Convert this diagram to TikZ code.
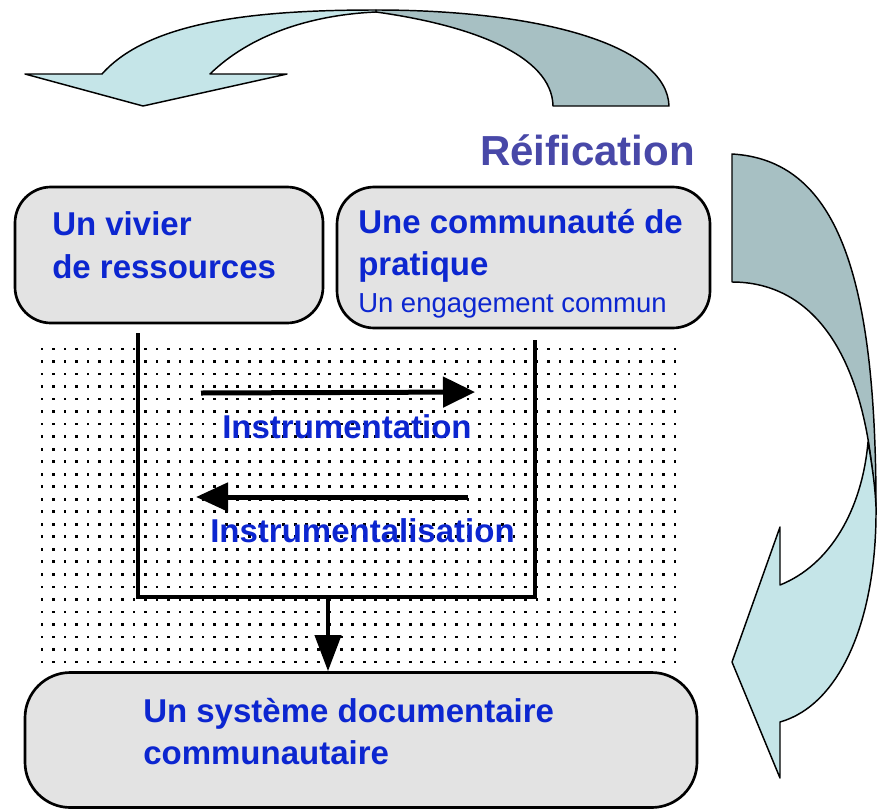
\documentclass[tikz,border=0pt]{standalone}
\usepackage{fontspec}
\setmainfont{Liberation Sans}
\usetikzlibrary{arrows.meta}
\definecolor{boxgray}{RGB}{227,227,227}
\definecolor{textblue}{RGB}{12,38,208}
\definecolor{reifblue}{RGB}{72,72,168}
\definecolor{paleteal}{RGB}{197,229,232}
\definecolor{greyteal}{RGB}{167,192,195}
\begin{document}
\begin{tikzpicture}[x=0.75pt,y=-0.75pt,
  box/.style={draw=black,line width=2pt,fill=boxgray,inner sep=0pt},
  bigtxt/.style={anchor=base west,inner sep=0pt,text=textblue,
    font=\fontsize{24.75}{30}\selectfont\bfseries},
  smalltxt/.style={anchor=base west,inner sep=0pt,text=textblue,
    font=\fontsize{20.6}{25}\selectfont},
  bandline/.style={draw=black,line width=1.1pt,line join=round},
  flow/.style={line width=3.75pt,-{Triangle[length=24pt,width=22.5pt]}},
  frame/.style={line width=3pt,line join=miter}]
\useasboundingbox (0,0) rectangle (884,810);

% dotted field
\foreach \i in {0,...,55}{
  \foreach \j in {0,...,25}{
    \fill ({42+\i*11.51-1.35},{349+\j*12.52-1.35}) rectangle ++(2.7,2.7);
  }
}

% curved arrow at the top
\filldraw[bandline,fill=greyteal] (376,10) .. controls (540,10) and (667,45) .. (669,106)
  -- (553,106) .. controls (552,55) and (470,25) .. (376,12) -- cycle;
\filldraw[bandline,fill=paleteal] (25,74) -- (102,74)
  .. controls (150,20) and (260,10) .. (376,10) -- (376,12)
  .. controls (310,15) and (250,35) .. (210,74) -- (287,74) -- (143,106) -- cycle;

% curved arrow on the right
\filldraw[bandline,fill=greyteal] (732,154) .. controls (835,160) and (876,270) .. (876,507)
  -- (875,507) .. controls (868,350) and (810,282) .. (732,282) -- cycle;
\filldraw[bandline,fill=paleteal] (868,442) .. controls (872,465) and (875,485) .. (876,507)
  .. controls (877,620) and (840,705) .. (780,722) -- (780,778) -- (732,662)
  -- (780,527) -- (780,585) .. controls (830,565) and (862,510) .. (868,442) -- cycle;

\node[anchor=base west,inner sep=0pt,text=reifblue,
  font=\fontsize{31.5}{36}\selectfont\bfseries] (reif) at (480,165) {Réification};

% boxes
\node[box,rounded corners=27pt,minimum width=231pt,minimum height=102pt]
  (pool) at (169,255) {};
\node[box,rounded corners=28pt,minimum width=279.75pt,minimum height=105.75pt]
  (cop) at (523.5,257.5) {};
\node[box,rounded corners=34pt,minimum width=504pt,minimum height=101.25pt]
  (sys) at (361,740) {};

\node[bigtxt] (pool1) at (52,235) {Un vivier};
\node[bigtxt] (pool2) at (52,278) {de ressources};
\node[bigtxt] (cop1) at (358,233) {Une communauté de};
\node[bigtxt] (cop2) at (358,275) {pratique};
\node[smalltxt] (cop3) at (358,312) {Un engagement commun};
\node[bigtxt] (sys1) at (143,722) {Un système documentaire};
\node[bigtxt] (sys2) at (143,764) {communautaire};

% frame joining the two upper boxes, and the arrow down
\coordinate (fl) at (138,333);
\coordinate (fr) at (535,340);
\coordinate (fbr) at (535,597);
\coordinate (dsrc) at (328,597);
\draw[frame] (fl) |- (fbr) -- (fr);
\draw[line width=3pt,-{Triangle[length=27pt,width=19.5pt]}] (dsrc) -- (dsrc |- sys.north);

% instrumentation arrows
\coordinate (ia) at (201,393);
\coordinate (ib) at (475,392);
\coordinate (ic) at (468,497);
\coordinate (id) at (196,497);
\draw[flow] (ia) -- (ib);
\draw[line width=3.75pt,-{Triangle[length=24pt,width=21pt]}] (ic) -- (id);
\node[bigtxt] (instr) at (222,438) {Instrumentation};
\node[bigtxt] (instl) at (210,542) {Instrumentalisation};
\end{tikzpicture}
\end{document}
